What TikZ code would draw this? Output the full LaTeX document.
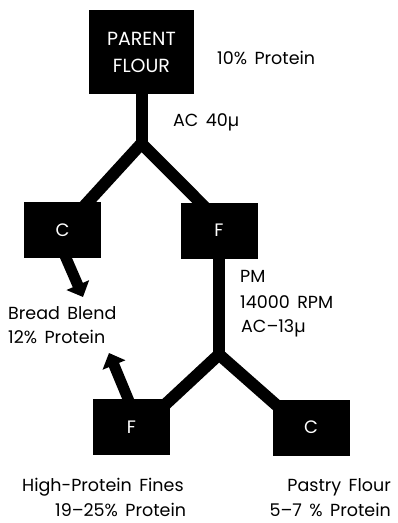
\documentclass[tikz,border=0pt]{standalone}
\usepackage{fontspec}
\setmainfont{Poppins}[WordSpace=1.6]
\usetikzlibrary{arrows.meta,calc}
\pgfdeclarelayer{bg}
\pgfsetlayers{bg,main}
\begin{document}
\begin{tikzpicture}[x=1pt,y=-1pt,
  box/.style={fill=black,text=white,inner sep=0pt,minimum width=77pt,minimum height=56pt,font=\fontsize{18}{20}\selectfont},
  lbl/.style={inner sep=0pt,font=\fontsize{17.5}{20}\selectfont},
  pipe/.style={line width=12pt,line join=miter},
  outflow/.style={line width=11pt,-{Triangle[width=24pt,length=13pt]}}]
\useasboundingbox (0,0) rectangle (397,523);
\node[box,minimum width=105pt,minimum height=84pt,align=center,font=\fontsize{19}{27}\selectfont] (parent) at (141.5,52) {PARENT\\FLOUR};
\node[box] (c1) at (62.5,230) {C};
\node[box] (f1) at (219,230.5) {F};
\node[box] (f2) at (131.5,427) {F};
\node[box] (c2) at (311,427.5) {C};
\coordinate (j1) at (141.5,143.5);
\coordinate (j2) at (219,354.5);
\coordinate (t1) at (83,297);
\coordinate (t2) at (109,353);
\begin{pgfonlayer}{bg}
\draw[pipe] (parent.south) -- (j1);
\draw[pipe] ($(c1.north)+(16.5,10)$) -- (j1) -- ($(f1.north)+(-9,10)$);
\draw[pipe] (f1.south) -- (j2);
\draw[pipe] ($(f2.north)+(27,12)$) -- (j2) -- ($(c2.north)+(-27,12.5)$);
\draw[outflow] ($(c1.south)+(1,-6)$) -- (t1);
\draw[outflow] ($(f2.north)+(-1,6)$) -- (t2);
\end{pgfonlayer}
\node[lbl,anchor=base west] (p1) at (217,64) {10\% Protein};
\node[lbl,anchor=base west] (ac1) at (173,126) {AC 40µ};
\node[lbl,anchor=base west] (pm) at (240,282) {PM};
\node[lbl,anchor=base west] (rpm) at (240,308) {14000 RPM};
\node[lbl,anchor=base west] (ac2) at (241,332) {AC–13µ};
\node[lbl,anchor=base west] (bb) at (8,319) {Bread Blend};
\node[lbl,anchor=base west] (bbp) at (8,343) {12\% Protein};
\node[lbl,anchor=base west] (hp) at (22,491) {High-Protein Fines};
\node[lbl,anchor=base west] (hpp) at (55,516.5) {19–25\% Protein};
\node[lbl,anchor=base east] (pf) at (391,491) {Pastry Flour};
\node[lbl,anchor=base east] (pfp) at (391,516.5) {5–7 \% Protein};
\end{tikzpicture}
\end{document}
